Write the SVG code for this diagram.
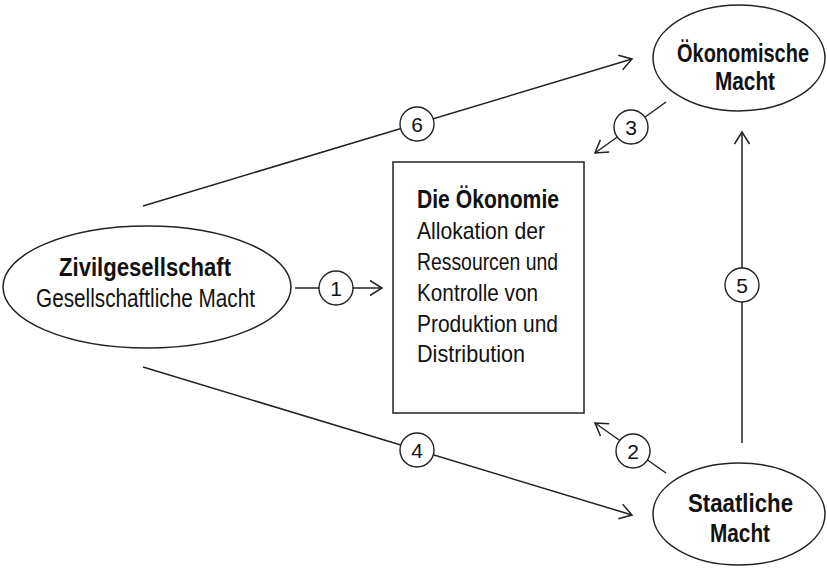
<svg xmlns="http://www.w3.org/2000/svg" width="827" height="568" viewBox="0 0 827 568">
<style>
.shape{fill:#fff;stroke:#222;stroke-width:1.5}
.conn{fill:none;stroke:#222;stroke-width:1.5}
.b{font-family:"Liberation Sans",Arial,sans-serif;font-weight:bold;font-size:25px;fill:#111}
.r{font-family:"Liberation Sans",Arial,sans-serif;font-size:25px;fill:#111}
.t{font-family:"Liberation Sans",Arial,sans-serif;font-size:24px;fill:#111}
.n{font-family:"Liberation Sans",Arial,sans-serif;font-size:21px;fill:#111;text-anchor:middle}
.num{fill:#fff;stroke:#222;stroke-width:1.4}
</style>
<defs>
<marker id="ah" markerUnits="userSpaceOnUse" markerWidth="20" markerHeight="20" viewBox="-15 -10 17 20" refX="0" refY="0" orient="auto">
<path d="M-12,-7.5 L0,0 L-12,7.5" fill="none" stroke="#222" stroke-width="1.5"/>
</marker>
</defs>
<g id="connectors">
<line class="conn" x1="143" y1="206" x2="632" y2="59" marker-end="url(#ah)"/>
<line class="conn" x1="143" y1="367" x2="632" y2="515" marker-end="url(#ah)"/>
<line class="conn" x1="295" y1="288" x2="382" y2="288" marker-end="url(#ah)"/>
<line class="conn" x1="666" y1="102" x2="595" y2="153" marker-end="url(#ah)"/>
<line class="conn" x1="666" y1="473" x2="595" y2="423" marker-end="url(#ah)"/>
<line class="conn" x1="742" y1="443" x2="742" y2="132" marker-end="url(#ah)"/>
<g id="label1"><circle class="num" cx="336" cy="288" r="17"/><text class="n" x="336" y="295.5">1</text></g>
<g id="label2"><circle class="num" cx="633" cy="451" r="17"/><text class="n" x="633" y="458.5">2</text></g>
<g id="label3"><circle class="num" cx="631" cy="127" r="17"/><text class="n" x="631" y="134.5">3</text></g>
<g id="label4"><circle class="num" cx="417" cy="450" r="17"/><text class="n" x="417" y="457.5">4</text></g>
<g id="label5"><circle class="num" cx="742" cy="285" r="17"/><text class="n" x="742" y="292.5">5</text></g>
<g id="label6"><circle class="num" cx="417" cy="124" r="17"/><text class="n" x="417" y="131.5">6</text></g>
</g>
<g id="zivilgesellschaft">
<ellipse class="shape" cx="147" cy="287" rx="144" ry="61"/>
<text class="b" x="59" y="276" textLength="172" lengthAdjust="spacingAndGlyphs">Zivilgesellschaft</text>
<text class="r" x="36" y="307" textLength="219" lengthAdjust="spacingAndGlyphs">Gesellschaftliche Macht</text>
</g>
<g id="oekonomie">
<rect class="shape" x="393" y="162" width="191" height="251"/>
<text class="b" x="417" y="208" textLength="142" lengthAdjust="spacingAndGlyphs">Die Ökonomie</text>
<text class="t" x="417" y="239" textLength="128" lengthAdjust="spacingAndGlyphs">Allokation der</text>
<text class="t" x="417" y="270" textLength="141" lengthAdjust="spacingAndGlyphs">Ressourcen und</text>
<text class="t" x="417" y="301" textLength="121" lengthAdjust="spacingAndGlyphs">Kontrolle von</text>
<text class="t" x="417" y="332" textLength="141" lengthAdjust="spacingAndGlyphs">Produktion und</text>
<text class="t" x="417" y="362" textLength="108" lengthAdjust="spacingAndGlyphs">Distribution</text>
</g>
<g id="oekonomische-macht">
<ellipse class="shape" cx="739" cy="58" rx="86" ry="53"/>
<text class="b" x="677" y="62" textLength="132" lengthAdjust="spacingAndGlyphs">Ökonomische</text>
<text class="b" x="715" y="90" textLength="60" lengthAdjust="spacingAndGlyphs">Macht</text>
</g>
<g id="staatliche-macht">
<ellipse class="shape" cx="739" cy="514" rx="86" ry="51"/>
<text class="b" x="688" y="512" textLength="105" lengthAdjust="spacingAndGlyphs">Staatliche</text>
<text class="b" x="710" y="542" textLength="60" lengthAdjust="spacingAndGlyphs">Macht</text>
</g>
</svg>
